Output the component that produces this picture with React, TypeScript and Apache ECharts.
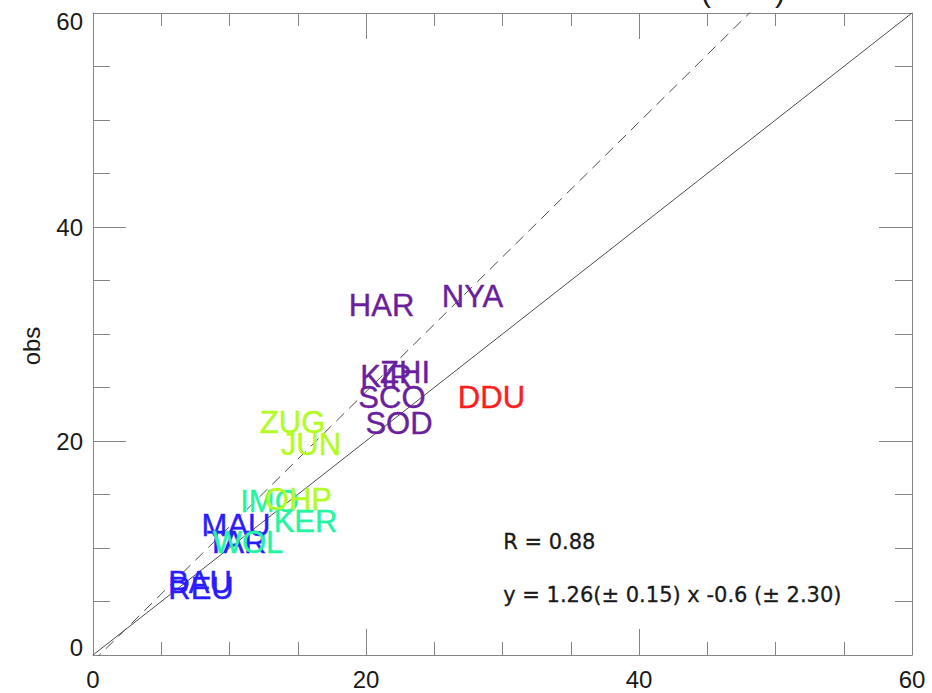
import React, { useEffect, useRef } from "react";
import * as echarts from "echarts";

// Station columns: model value (x), observed value (y), latitude band
const stationNames = ["HAR", "NYA", "KIR", "ZHI", "SCO", "SOD", "DDU", "ZUG", "JUN", "IMO", "OHP", "KER", "MAU", "TAR", "WOL", "BAU", "REU"];
const modelValues = [21.14, 27.8, 21.47, 22.86, 21.9, 22.42, 29.19, 14.62, 15.97, 12.93, 15.05, 15.57, 10.48, 10.51, 11.36, 7.84, 7.91];
const obsValues = [32.62, 33.55, 26.07, 26.36, 24.07, 21.64, 24.07, 21.73, 19.63, 14.39, 14.5, 12.52, 12.06, 10.56, 10.56, 6.82, 6.17];
const stationBand = [0, 0, 0, 0, 0, 0, 1, 2, 2, 3, 2, 3, 4, 4, 3, 4, 4];

// Axis ticks
const axisMin = 0;
const axisMax = 60;
const majorStep = 20;

// Regression summary
const fitR = 0.88;
const fitSlope = 1.26;
const fitSlopeErr = 0.15;
const fitIntercept = -0.6;
const fitInterceptErr = 2.3;

const bandColors = ["#6a1f9e", "#ff1c1c", "#b2fc22", "#24f5a2", "#2b1cff"];
const frameColor = "#858585";
const textColor = "#1a1a1a";
const labelFont = "'Liberation Sans', Arial, Helvetica, sans-serif";

export default function App() {
  const ref = useRef<HTMLDivElement>(null);

  useEffect(() => {
    if (!ref.current) return;
    const chart = echarts.init(ref.current, undefined, { renderer: "svg" });

    const axisCommon = (majorLen: number, minorLen: number, showLabel: boolean) => ({
      type: "value" as const,
      min: axisMin,
      max: axisMax,
      interval: majorStep,
      axisLine: { show: true, onZero: false, lineStyle: { color: frameColor, width: 1 } },
      axisTick: { show: true, inside: true, length: majorLen, lineStyle: { color: frameColor, width: 1 } },
      minorTick: { show: true, splitNumber: 4, length: minorLen, lineStyle: { color: frameColor, width: 1 } },
      splitLine: { show: false },
      minorSplitLine: { show: false },
      axisLabel: {
        show: showLabel,
        color: textColor,
        fontSize: 24,
        fontFamily: labelFont,
      },
    });

    const xBottom: any = axisCommon(26, 13, true);
    xBottom.position = "bottom";
    xBottom.axisLabel.margin = 12;
    const xTop: any = axisCommon(26, 13, false);
    xTop.position = "top";
    const yLeft: any = axisCommon(33, 17, true);
    yLeft.position = "left";
    yLeft.axisLabel.margin = 10;
    yLeft.axisLabel.lineHeight = 16;
    yLeft.axisLabel.verticalAlignMinLabel = "bottom";
    yLeft.axisLabel.verticalAlignMaxLabel = "top";
    const yRight: any = axisCommon(33, 17, false);
    yRight.position = "right";

    const labelData = stationNames.map((name, i) => {
      const c = bandColors[stationBand[i]];
      return {
        name,
        value: [modelValues[i], obsValues[i]],
        label: { color: c, textBorderColor: c, textBorderWidth: 0.4, opacity: 1 },
      };
    });

    const equation = `y = ${fitSlope.toFixed(2)}(\u00b1 ${fitSlopeErr.toFixed(2)}) x ${fitIntercept.toFixed(1)} (\u00b1 ${fitInterceptErr.toFixed(2)})`;

    chart.setOption({
      animation: false,
      backgroundColor: "#ffffff",
      grid: { left: 93, top: 13, width: 819, height: 642, containLabel: false },
      xAxis: [xBottom, xTop],
      yAxis: [yLeft, yRight],
      series: [
        {
          type: "line",
          data: [
            [axisMin, axisMin],
            [axisMax, axisMax],
          ],
          symbol: "none",
          lineStyle: { color: "#4d4d4d", width: 1 },
          silent: true,
          z: 1,
        },
        {
          type: "line",
          data: [
            [axisMin, fitSlope * axisMin + fitIntercept],
            [axisMax, fitSlope * axisMax + fitIntercept],
          ],
          symbol: "none",
          clip: true,
          lineStyle: { color: "#4d4d4d", width: 1, type: [11, 7] },
          silent: true,
          z: 1,
        },
        {
          type: "scatter",
          data: labelData,
          symbolSize: 1,
          itemStyle: { color: "rgba(0,0,0,0)", opacity: 1 },
          label: {
            show: true,
            position: "inside",
            formatter: (p: any) => p.name,
            fontSize: 31,
            fontFamily: labelFont,
            opacity: 1,
          },
          z: 3,
        },
      ],
      graphic: [
        {
          type: "text",
          left: 503,
          top: 531,
          style: {
            text: `R = ${fitR.toFixed(2)}`,
            fill: textColor,
            stroke: textColor,
            lineWidth: 0.3,
            font: "21px 'DejaVu Sans', sans-serif",
          },
        },
        {
          type: "text",
          left: 503,
          top: 584,
          style: {
            text: equation,
            fill: textColor,
            stroke: textColor,
            lineWidth: 0.3,
            font: "21px 'DejaVu Sans', sans-serif",
          },
        },
        {
          type: "text",
          x: 31,
          y: 346,
          rotation: Math.PI / 2,
          style: { text: "obs", fill: textColor, font: `24px ${labelFont}`, align: "center", verticalAlign: "middle" },
        },
        {
          type: "text",
          x: 701,
          y: 6,
          style: { text: "(", fill: textColor, font: `30px ${labelFont}`, align: "left", verticalAlign: "bottom" },
        },
        {
          type: "text",
          x: 775,
          y: 6,
          style: { text: ")", fill: textColor, font: `30px ${labelFont}`, align: "left", verticalAlign: "bottom" },
        },
      ],
    });

    return () => chart.dispose();
  }, []);

  return (
    <div
      ref={ref}
      style={{ position: "absolute", left: 0, top: 0, width: 932, height: 693, background: "#fff" }}
    />
  );
}
